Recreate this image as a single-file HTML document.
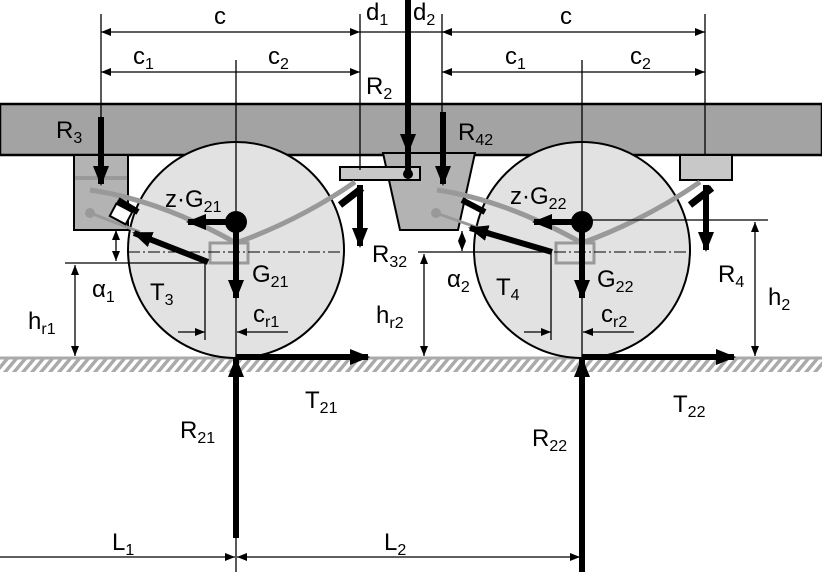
<!DOCTYPE html>
<html><head><meta charset="utf-8"><style>
html,body{margin:0;padding:0;background:#fff}
svg{display:block}
text{font-family:"Liberation Sans",sans-serif;font-size:24px;fill:#000}
tspan.s{font-size:16px}
</style></head><body>
<svg width="822" height="572" viewBox="0 0 822 572" xmlns="http://www.w3.org/2000/svg">
<defs>
<pattern id="h" width="9" height="14" patternUnits="userSpaceOnUse" patternTransform="skewX(-40)">
<rect width="9" height="14" fill="#fff"/><rect width="4.5" height="14" fill="#aaa"/>
</pattern>
<marker id="a" markerWidth="10" markerHeight="8" refX="10" refY="4" orient="auto" markerUnits="userSpaceOnUse"><path d="M0,0L10,4L0,8z"/></marker>
<marker id="A" markerWidth="20" markerHeight="16" refX="18" refY="8" orient="auto" markerUnits="userSpaceOnUse"><path d="M0,0L20,8L0,16z"/></marker>
</defs>
<rect x="0" y="358" width="822" height="14" fill="url(#h)"/>
<line x1="0" y1="358" x2="822" y2="358" stroke="#aaa" stroke-width="3"/>
<rect x="0" y="104" width="822" height="51" fill="#a3a3a3" stroke="#000" stroke-width="2.5"/>
<rect x="74" y="155" width="54" height="75" fill="#b3b3b3" stroke="#000" stroke-width="2"/>
<line x1="75" y1="178" x2="127" y2="178" stroke="#999" stroke-width="4"/>
<rect x="680" y="155" width="52" height="25" fill="#c8c8c8" stroke="#000" stroke-width="2"/>
<polygon points="383,153 475,153 458,230 400,230" fill="#b3b3b3" stroke="#000" stroke-width="2"/>
<rect x="340" y="167" width="80" height="13" fill="#c8c8c8" stroke="#000" stroke-width="2"/>
<circle cx="236" cy="250" r="108" fill="#e2e2e2" stroke="#000" stroke-width="2"/>
<circle cx="582" cy="250" r="108" fill="#e2e2e2" stroke="#000" stroke-width="2"/>
<path d="M90,190 Q160,200 236,243 Q300,220 355,182" fill="none" stroke="#999" stroke-width="5"/>
<path d="M437,190 Q505,200 582,243 Q645,220 700,182" fill="none" stroke="#999" stroke-width="5"/>
<path d="M90,213 L140,232" stroke="#999" stroke-width="3"/><circle cx="90" cy="213" r="5" fill="#999"/>
<path d="M436,213 L490,232" stroke="#999" stroke-width="3"/><circle cx="436" cy="213" r="5" fill="#999"/>
<rect x="210" y="243" width="38" height="20" fill="none" stroke="#999" stroke-width="3"/>
<rect x="556" y="243" width="38" height="20" fill="none" stroke="#999" stroke-width="3"/>
<path d="M118,200 L138,212" stroke="#000" stroke-width="6"/>
<rect x="112" y="207" width="18" height="14" fill="#fff" stroke="#000" stroke-width="2" transform="rotate(28 121 214)"/>
<path d="M340,205 L362,188" stroke="#000" stroke-width="7"/>
<path d="M690,205 L712,188" stroke="#000" stroke-width="7"/>
<path d="M462,200 L485,212" stroke="#000" stroke-width="6"/>
<line x1="128" y1="252" x2="342" y2="252" stroke="#000" stroke-width="1" stroke-dasharray="12,3,2,3"/>
<line x1="474" y1="252" x2="690" y2="252" stroke="#000" stroke-width="1" stroke-dasharray="12,3,2,3"/>
<g stroke="#000" stroke-width="1.3" fill="none">
<line x1="101" y1="14" x2="101" y2="155"/>
<line x1="360" y1="14" x2="360" y2="170"/>
<line x1="442" y1="14" x2="442" y2="112"/>
<line x1="705" y1="14" x2="705" y2="155"/>
<line x1="236" y1="60" x2="236" y2="572"/>
<line x1="582" y1="60" x2="582" y2="572"/>
<line x1="230" y1="32" x2="101" y2="32" marker-end="url(#a)"/>
<line x1="230" y1="32" x2="360" y2="32" marker-end="url(#a)"/>
<line x1="570" y1="32" x2="705" y2="32" marker-end="url(#a)"/>
<line x1="570" y1="32" x2="442" y2="32" marker-end="url(#a)"/>
<line x1="360" y1="32" x2="442" y2="32"/>
<line x1="236" y1="72" x2="101" y2="72" marker-end="url(#a)"/>
<line x1="236" y1="72" x2="360" y2="72" marker-end="url(#a)"/>
<line x1="582" y1="72" x2="442" y2="72" marker-end="url(#a)"/>
<line x1="582" y1="72" x2="705" y2="72" marker-end="url(#a)"/>
<line x1="65" y1="263" x2="207" y2="263"/>
<line x1="75" y1="310" x2="75" y2="265" marker-end="url(#a)"/>
<line x1="75" y1="310" x2="75" y2="356" marker-end="url(#a)"/>
<line x1="418" y1="252" x2="550" y2="252"/>
<line x1="424" y1="300" x2="424" y2="254" marker-end="url(#a)"/>
<line x1="424" y1="300" x2="424" y2="356" marker-end="url(#a)"/>
<line x1="582" y1="220" x2="768" y2="220"/>
<line x1="755" y1="290" x2="755" y2="222" marker-end="url(#a)"/>
<line x1="755" y1="290" x2="755" y2="356" marker-end="url(#a)"/>
<line x1="205" y1="263" x2="205" y2="340"/>
<line x1="551" y1="252" x2="551" y2="340"/>
<line x1="178" y1="332" x2="205" y2="332" marker-end="url(#a)"/>
<line x1="288" y1="332" x2="237" y2="332" marker-end="url(#a)"/>
<line x1="524" y1="332" x2="551" y2="332" marker-end="url(#a)"/>
<line x1="634" y1="332" x2="583" y2="332" marker-end="url(#a)"/>
<line x1="116" y1="245" x2="116" y2="230" marker-end="url(#a)"/>
<line x1="116" y1="245" x2="116" y2="261" marker-end="url(#a)"/>
<line x1="462" y1="241" x2="462" y2="231" marker-end="url(#a)"/>
<line x1="462" y1="241" x2="462" y2="251" marker-end="url(#a)"/>
<line x1="0" y1="557" x2="235" y2="557" marker-end="url(#a)"/>
<line x1="410" y1="557" x2="237" y2="557" marker-end="url(#a)"/>
<line x1="410" y1="557" x2="580" y2="557" marker-end="url(#a)"/>
</g>
<g stroke="#000" stroke-width="6" fill="none">
<line x1="101" y1="117" x2="101" y2="184" marker-end="url(#A)"/>
<line x1="408" y1="0" x2="408" y2="175"/>
<line x1="408" y1="120" x2="408" y2="152" marker-end="url(#A)"/>
<line x1="443" y1="112" x2="443" y2="184" marker-end="url(#A)"/>
<line x1="360" y1="185" x2="360" y2="246" marker-end="url(#A)"/>
<line x1="706" y1="185" x2="706" y2="250" marker-end="url(#A)"/>
<line x1="236" y1="222" x2="188" y2="222" marker-end="url(#A)"/>
<line x1="582" y1="222" x2="534" y2="222" marker-end="url(#A)"/>
<line x1="236" y1="222" x2="236" y2="298" marker-end="url(#A)"/>
<line x1="582" y1="222" x2="582" y2="298" marker-end="url(#A)"/>
<line x1="208" y1="262" x2="134" y2="233" marker-end="url(#A)"/>
<line x1="552" y1="252" x2="470" y2="228" marker-end="url(#A)"/>
<line x1="236" y1="357" x2="368" y2="357" marker-end="url(#A)"/>
<line x1="582" y1="357" x2="734" y2="357" marker-end="url(#A)"/>
<line x1="236" y1="538" x2="236" y2="359" marker-end="url(#A)"/>
<line x1="582" y1="572" x2="582" y2="359" marker-end="url(#A)"/>
</g>
<circle cx="236" cy="222" r="11"/>
<circle cx="582" cy="222" r="11"/>
<circle cx="408" cy="174" r="5"/>
<text x="214" y="24">c</text>
<text x="560" y="24">c</text>
<text x="366" y="20">d<tspan class="s" dy="5">1</tspan></text>
<text x="413" y="20">d<tspan class="s" dy="5">2</tspan></text>
<text x="133" y="64">c<tspan class="s" dy="5">1</tspan></text>
<text x="268" y="64">c<tspan class="s" dy="5">2</tspan></text>
<text x="505" y="64">c<tspan class="s" dy="5">1</tspan></text>
<text x="630" y="64">c<tspan class="s" dy="5">2</tspan></text>
<text x="366" y="94">R<tspan class="s" dy="5">2</tspan></text>
<text x="56" y="138">R<tspan class="s" dy="5">3</tspan></text>
<text x="458" y="140">R<tspan class="s" dy="5">42</tspan></text>
<text x="165" y="207">z·G<tspan class="s" dy="5">21</tspan></text>
<text x="510" y="204">z·G<tspan class="s" dy="5">22</tspan></text>
<text x="252" y="282">G<tspan class="s" dy="5">21</tspan></text>
<text x="597" y="287">G<tspan class="s" dy="5">22</tspan></text>
<text x="150" y="300">T<tspan class="s" dy="5">3</tspan></text>
<text x="496" y="295">T<tspan class="s" dy="5">4</tspan></text>
<text x="92" y="297">α<tspan class="s" dy="5">1</tspan></text>
<text x="447" y="287">α<tspan class="s" dy="5">2</tspan></text>
<text x="28" y="329">h<tspan class="s" dy="5">r1</tspan></text>
<text x="376" y="323">h<tspan class="s" dy="5">r2</tspan></text>
<text x="253" y="322">c<tspan class="s" dy="5">r1</tspan></text>
<text x="601" y="322">c<tspan class="s" dy="5">r2</tspan></text>
<text x="372" y="262">R<tspan class="s" dy="5">32</tspan></text>
<text x="718" y="282">R<tspan class="s" dy="5">4</tspan></text>
<text x="768" y="305">h<tspan class="s" dy="5">2</tspan></text>
<text x="305" y="408">T<tspan class="s" dy="5">21</tspan></text>
<text x="180" y="438">R<tspan class="s" dy="5">21</tspan></text>
<text x="673" y="412">T<tspan class="s" dy="5">22</tspan></text>
<text x="532" y="446">R<tspan class="s" dy="5">22</tspan></text>
<text x="112" y="550">L<tspan class="s" dy="5">1</tspan></text>
<text x="384" y="550">L<tspan class="s" dy="5">2</tspan></text>
</svg>
</body></html>
